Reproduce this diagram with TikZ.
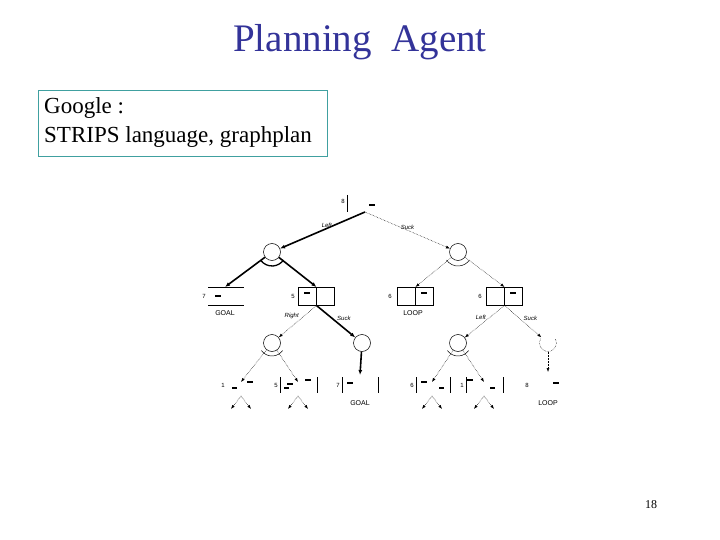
\documentclass[tikz,border=0pt]{standalone}
\usepackage{fontspec}
\setmainfont{Liberation Serif}
\newfontfamily\hv{Liberation Sans}
\usetikzlibrary{arrows.meta}
\definecolor{titleblue}{RGB}{51,51,153}
\definecolor{boxteal}{RGB}{64,160,160}
\begin{document}
\begin{tikzpicture}[x=1pt,y=-1pt,
  thickarr/.style={line width=1.6pt,-{Latex[length=5pt,width=4pt]}},
  dasharr/.style={densely dotted,line width=0.5pt,-{Latex[length=4pt,width=3pt]}},
  ornode/.style={circle,draw,line width=0.5pt,minimum size=17pt,inner sep=0pt},
  num/.style={font=\hv\fontsize{6}{7}\selectfont,inner sep=0.5pt},
  lab/.style={font=\hv\itshape\fontsize{6}{7}\selectfont,inner sep=0.5pt},
  tag/.style={font=\hv\fontsize{7}{8}\selectfont,inner sep=0.5pt},
  cell/.style={draw,line width=0.5pt,minimum width=18pt,minimum height=18pt,inner sep=0pt},
  dirt/.style={fill=black,inner sep=0pt,minimum width=6pt,minimum height=1.5pt}]
\useasboundingbox (0,0) rectangle (720,540);
\node[font=\fontsize{39}{44}\selectfont,text=titleblue] (title) at (360,42) {Planning\ \ Agent};
\draw[draw=boxteal,line width=0.6pt] (38,90) rectangle (327,156);
\node[align=left,anchor=north west,inner sep=0pt,
  font=\fontsize{23}{29}\selectfont] (g) at (44,97)
  {Google :\\STRIPS language, graphplan};
% top state
\coordinate (s0) at (365,212);
\draw[line width=0.5pt] (347,195) -- (347,212);
\node[num] (n0) at (343,201) {8};
\node[dirt] (d0) at (372,205) {};
% level 1 OR nodes
\node[ornode] (o1) at (272,252) {};
\node[ornode] (o2) at (458,252) {};
\draw[thickarr] (s0) -- node[lab,above,pos=0.45] (l1) {Left} (o1);
\draw[dasharr] (s0) -- node[lab,above,pos=0.5] (l2) {Suck} (o2);
% level 2 states
\draw[line width=0.5pt] (208,287) -- (244,287) (208,305) -- (244,305);
\coordinate (a1) at (225,287);
\node[num] (na) at (204,296) {7};\node[dirt] (da) at (218,296) {};
\node[tag] (goal1) at (225,313) {GOAL};
\node[cell,anchor=north west] (b1) at (298,287) {};\node[cell,anchor=north west] (b1r) at (316,287) {};
\node[num] (nb) at (293,296) {5};\node[dirt] (db) at (307,293) {};
\node[cell,anchor=north west] (c1) at (397,287) {};\node[cell,anchor=north west] (c1r) at (415,287) {};
\node[num] (nc) at (390,296) {6};\node[dirt] (dc) at (424,293) {};
\node[tag] (loop1) at (413,313) {LOOP};
\node[cell,anchor=north west] (e1) at (486,287) {};\node[cell,anchor=north west] (e1r) at (504,287) {};
\node[num] (ne) at (480,296) {6};\node[dirt] (de) at (513,293) {};
\draw[thickarr] (o1) -- (a1);
\draw[thickarr] (o1) -- (b1.north east);
\draw[dasharr] (o2) -- (c1.north east);
\draw[dasharr] (o2) -- (e1.north east);
\draw[line width=1.3pt] (o1)+(145:14) arc[start angle=145,end angle=35,radius=14];
\draw[line width=0.5pt] (o2)+(145:14) arc[start angle=145,end angle=35,radius=14];
% level 3
\node[ornode] (p1) at (272,343) {};
\node[ornode] (p2) at (362,343) {};
\node[ornode] (p3) at (458,343) {};
\node[ornode,draw=none] (p4) at (548,343) {};
\draw[line width=0.5pt,densely dotted] (p4)+(-150:8.5) arc[start angle=-150,end angle=-390,radius=8.5];
\draw[dasharr] (b1.south east) -- node[lab,above left,pos=0.45] (l3) {Right} (p1);
\draw[thickarr] (b1.south east) -- node[lab,above right,pos=0.5] (l4) {Suck} (p2);
\draw[dasharr] (e1.south east) -- node[lab,above left,pos=0.45] (l5) {Left} (p3);
\draw[dasharr] (e1.south east) -- node[lab,above right,pos=0.5] (l6) {Suck} (p4);
\draw[line width=0.5pt] (p1)+(145:13) arc[start angle=145,end angle=35,radius=13];
\draw[line width=0.5pt] (p3)+(145:13) arc[start angle=145,end angle=35,radius=13];
% level 4 states
\coordinate (q1) at (241,382);\coordinate (q2) at (298,382);\coordinate (q3) at (360,375);
\coordinate (q4) at (432,382);\coordinate (q5) at (484,382);\coordinate (q6) at (548,372);
\draw[dasharr] (p1) -- (q1);\draw[dasharr] (p1) -- (q2);
\draw[thickarr] (p2) -- (q3);
\draw[dasharr] (p3) -- (q4);\draw[dasharr] (p3) -- (q5);
\draw[dasharr] (p4) -- (q6);
\node[num] (m1) at (223,385) {1};\node[num] (m2) at (276,385) {5};\node[num] (m3) at (338,385) {7};
\node[num] (m4) at (412,385) {6};\node[num] (m5) at (462,385) {1};\node[num] (m6) at (527,385) {8};
\draw[line width=0.5pt] (280,377)--(280,393) (342,377)--(342,393) (378,377)--(378,393)
  (416,377)--(416,393) (450,377)--(450,393) (466,377)--(466,393) (503,377)--(503,393)
  (317,377)--(317,393);
\foreach \x/\y in {250/382,290/384,308/380,350/383,424/382,470/380,556/383}{\node[dirt] at (\x,\y) {};}
\foreach \x/\y in {234/388,286/388,441/388,492/388}{\node[dirt,minimum width=5pt] at (\x,\y) {};}
\node[tag] (goal2) at (360,403) {GOAL};
\node[tag] (loop2) at (548,403) {LOOP};
% small outgoing arrows
\foreach \c in {q1,q2,q4,q5}{
  \draw[dasharr] ([yshift=-14pt]\c) -- ++(-10,13);
  \draw[dasharr] ([yshift=-14pt]\c) -- ++(10,13);}
\node[font=\fontsize{12}{14}\selectfont] (pg) at (651,505) {18};
\end{tikzpicture}
\end{document}
